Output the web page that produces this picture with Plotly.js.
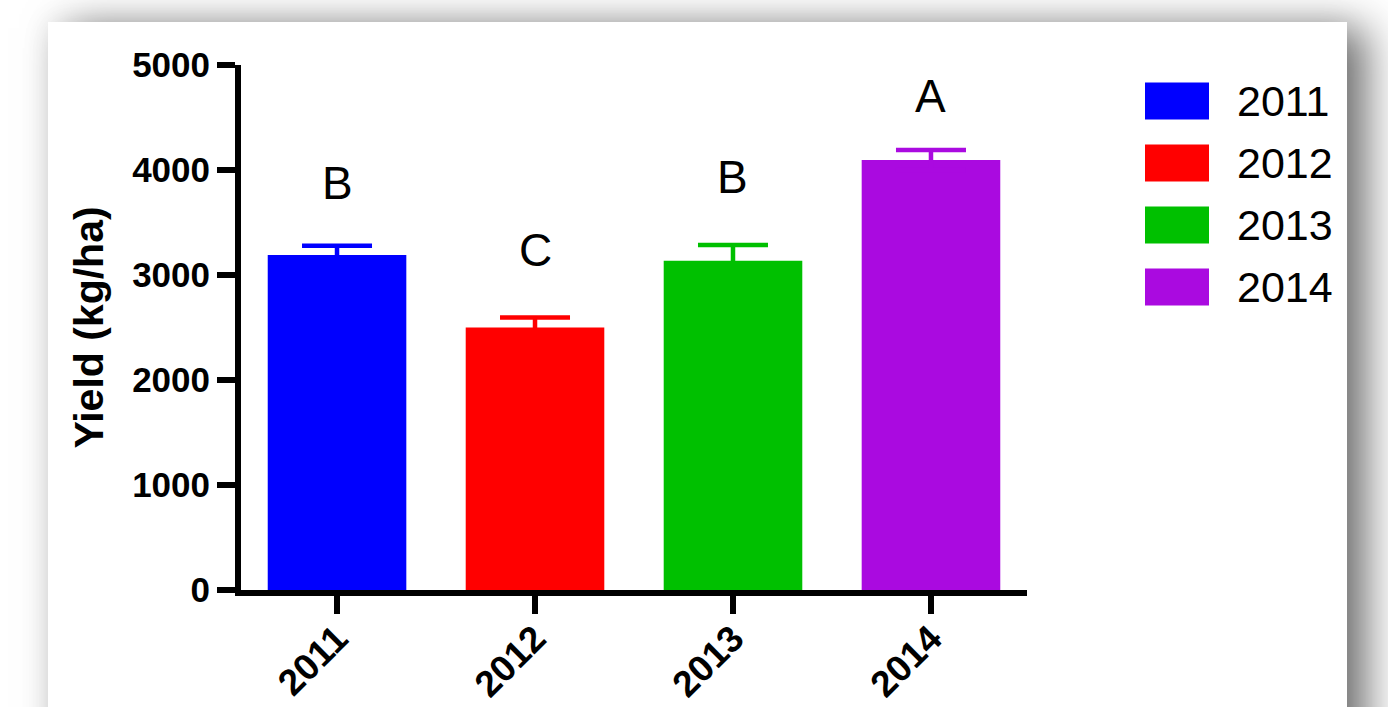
<!DOCTYPE html>
<html>
<head>
<meta charset="utf-8">
<script src="https://cdn.plot.ly/plotly-3.0.1.min.js"></script>
<style>
  html, body { margin:0; padding:0; width:1388px; height:707px; overflow:hidden; background:#ffffff; }
  #card { position:absolute; left:48px; top:22px; width:1299px; height:760px; background:#ffffff;
          box-shadow: 20px 6px 40px rgba(0,0,0,0.55), 0 0 30px rgba(0,0,0,0.07); }
  #chart { position:absolute; left:0; top:0; width:1388px; height:707px; }
</style>
</head>
<body>
<div id="card"></div>
<div id="chart"></div>
<script>
// ---- data ----
const years = ['2011', '2012', '2013', '2014'];
const yieldMean = [3190, 2500, 3135, 4095];
const yieldErr = [88, 95, 150, 95];
const letters = ['B', 'C', 'B', 'A'];
const letterY = [3876, 3238, 3933, 4705];
const barColors = ['#0000ff', '#ff0000', '#00c000', '#aa0ae0'];
const yTicks = [0, 1000, 2000, 3000, 4000, 5000];

// ---- layout constants ----
const W = 1388, H = 707;
const mL = 241, mR = 361, mT = 65, mB = 117;
const plotW = W - mL - mR, plotH = H - mT - mB;
const px2x = p => (p - mL) / plotW;
const px2y = p => (H - mB - p) / plotH;
const FONT = 'Arial, "Liberation Sans", sans-serif';

const traces = years.map((yr, i) => ({
  type: 'bar',
  x: [yr],
  y: [yieldMean[i]],
  width: 0.7,
  name: yr,
  showlegend: false,
  marker: { color: barColors[i], line: { width: 0 } },
  error_y: { type: 'data', array: [yieldErr[i]], visible: true, color: barColors[i], thickness: 4.5, width: 35 },
  hoverinfo: 'skip'
}));

const shapes = [];
const annotations = [];
years.forEach((yr, i) => {
  annotations.push({
    x: i, y: letterY[i], xref: 'x', yref: 'y', text: letters[i], showarrow: false,
    xanchor: 'center', yanchor: 'middle', font: { family: FONT, size: 46, color: '#000' }
  });
  const cy = 101 + 62 * i;
  shapes.push({
    type: 'rect', xref: 'paper', yref: 'paper',
    x0: px2x(1145), x1: px2x(1209), y0: px2y(cy + 18.5), y1: px2y(cy - 18.5),
    fillcolor: barColors[i], line: { width: 0 }
  });
  annotations.push({
    x: px2x(1235), y: px2y(cy), xref: 'paper', yref: 'paper', text: yr, showarrow: false,
    xanchor: 'left', yanchor: 'middle', font: { family: FONT, size: 43, color: '#000' }
  });
});

const layout = {
  width: W, height: H,
  margin: { l: mL, r: mR, t: mT, b: mB, pad: 0 },
  paper_bgcolor: 'rgba(0,0,0,0)',
  plot_bgcolor: 'rgba(0,0,0,0)',
  showlegend: false,
  bargap: 0.3,
  xaxis: {
    type: 'category',
    range: [-0.485, 3.485],
    showline: true, linecolor: '#000', linewidth: 6,
    ticks: 'outside', ticklen: 18, tickwidth: 6, tickcolor: '#000',
    tickangle: -45,
    ticklabelstandoff: -12,
    tickfont: { family: FONT, size: 37, color: '#000', weight: 'bold' },
    showgrid: false, zeroline: false, fixedrange: true
  },
  yaxis: {
    range: [0, 5000],
    tickvals: yTicks,
    ticktext: yTicks.map(String),
    showline: true, linecolor: '#000', linewidth: 6,
    ticks: 'outside', ticklen: 18, tickwidth: 6, tickcolor: '#000',
    tickfont: { family: FONT, size: 35, color: '#000', weight: 'bold' },
    title: { text: 'Yield (kg/ha)', font: { family: FONT, size: 41, color: '#000', weight: 'bold' }, standoff: 18 },
    showgrid: false, zeroline: false, fixedrange: true
  },
  shapes: shapes,
  annotations: annotations
};

Plotly.newPlot('chart', traces, layout, { displayModeBar: false, staticPlot: true });
</script>
</body>
</html>
